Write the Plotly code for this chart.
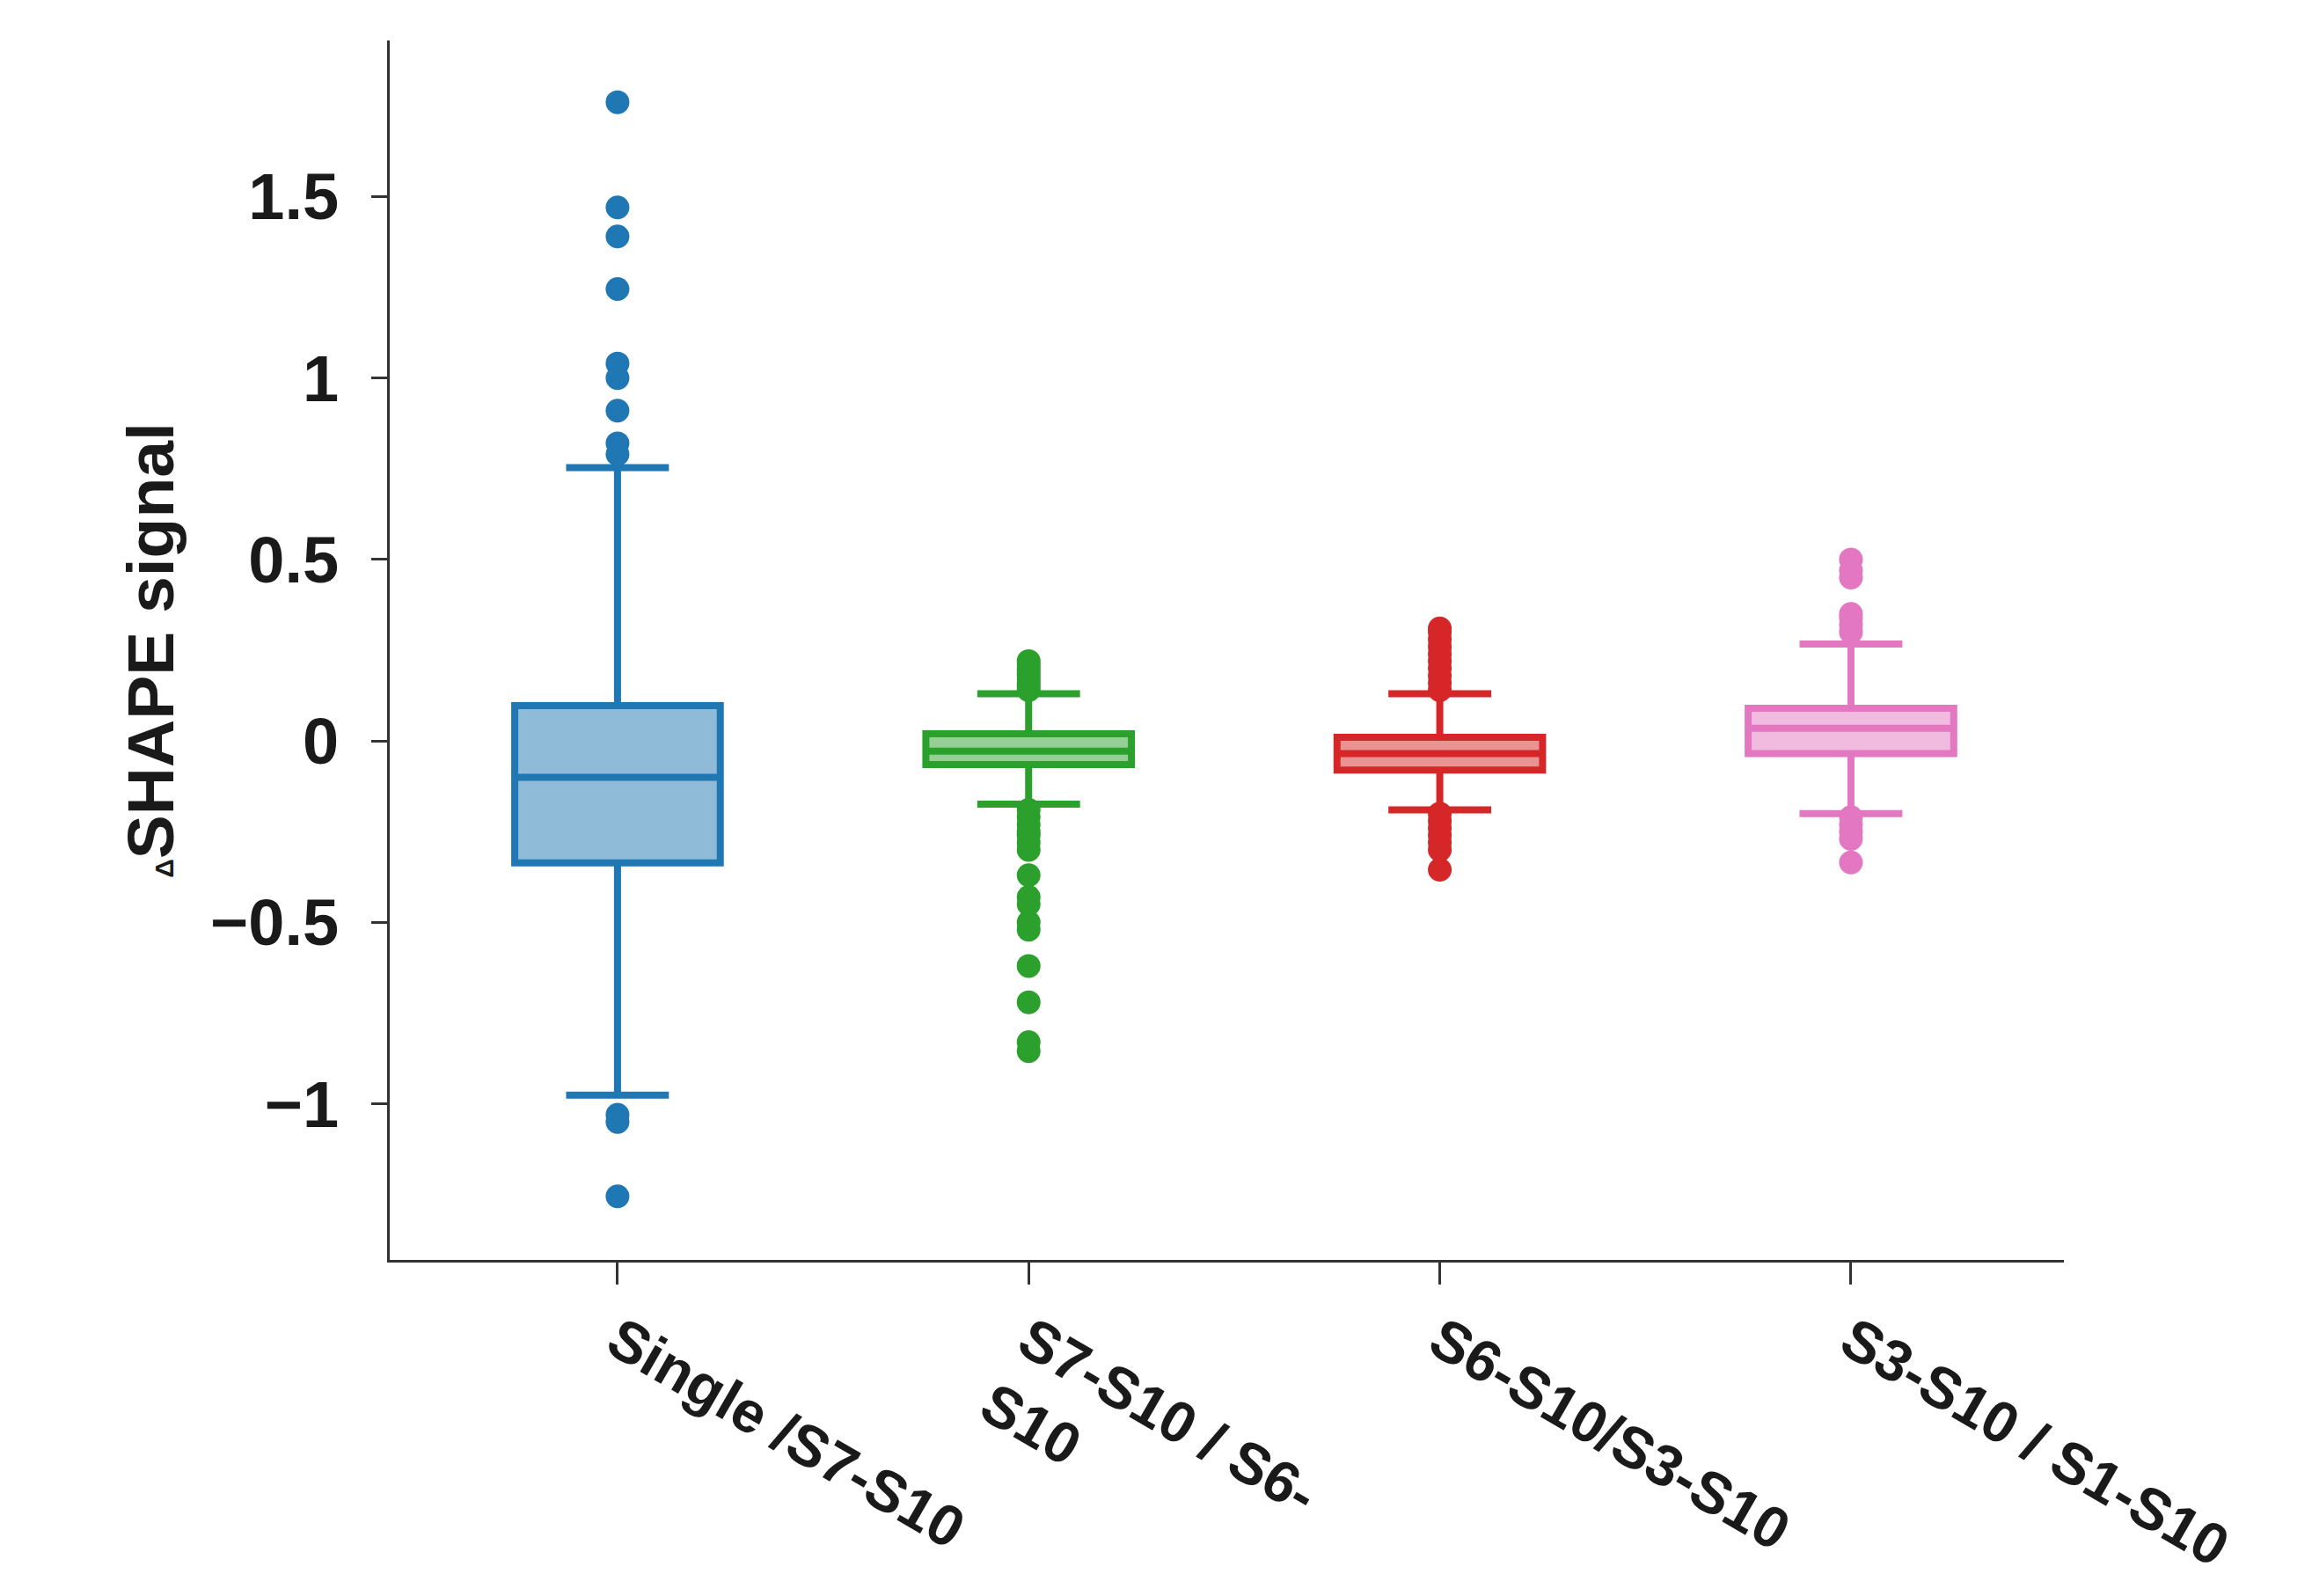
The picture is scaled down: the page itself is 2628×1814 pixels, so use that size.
import plotly.graph_objects as go

# category labels and colours (tab10)
categories = ["Single /S7-S10", "S7-S10 / S6-<br>S10", "S6-S10/S3-S10", "S3-S10 / S1-S10"]
colors = ["#1f77b4", "#2ca02c", "#d62728", "#e377c2"]
fills = ["rgba(31,119,180,0.5)", "rgba(44,160,44,0.5)", "rgba(214,39,40,0.5)", "rgba(227,119,194,0.5)"]

# box statistics
q1 = [-0.336, -0.065, -0.08, -0.035]
median = [-0.10, -0.028, -0.035, 0.035]
q3 = [0.097, 0.02, 0.01, 0.09]
lowerfence = [-0.976, -0.174, -0.19, -0.20]
upperfence = [0.753, 0.13, 0.13, 0.267]

# outliers per group
out_single = [1.76, 1.47, 1.39, 1.245, 1.04, 1.0, 0.91, 0.82, 0.79, -1.03, -1.05, -1.255]
out_s7 = [0.14, 0.15, 0.16, 0.17, 0.18, 0.19, 0.20, 0.21, 0.22,
          -0.19, -0.21, -0.23, -0.25, -0.26, -0.28, -0.30, -0.37, -0.43,
          -0.45, -0.50, -0.52, -0.62, -0.72, -0.83, -0.855]
out_s6 = [0.14, 0.16, 0.18, 0.20, 0.22, 0.24, 0.26, 0.28, 0.30, 0.31,
          -0.20, -0.22, -0.24, -0.26, -0.28, -0.30, -0.355]
out_s3 = [0.30, 0.32, 0.34, 0.35, 0.45, 0.47, 0.50,
          -0.21, -0.23, -0.25, -0.27, -0.335]
outliers = [out_single, out_s7, out_s6, out_s3]

fig = go.Figure()

for i, cat in enumerate(categories):
    fig.add_trace(go.Box(
        x=[cat], q1=[q1[i]], median=[median[i]], q3=[q3[i]],
        lowerfence=[lowerfence[i]], upperfence=[upperfence[i]],
        width=0.5, whiskerwidth=0.5,
        line=dict(color=colors[i], width=8),
        fillcolor=fills[i], boxpoints=False, showlegend=False,
    ))
    fig.add_trace(go.Scatter(
        x=[cat] * len(outliers[i]), y=outliers[i], mode="markers",
        marker=dict(color=colors[i], size=27, line=dict(width=0)),
        showlegend=False,
    ))

fig.update_layout(
    width=2628, height=1814,
    margin=dict(l=435, r=290, t=38, b=385),
    plot_bgcolor="white", paper_bgcolor="white",
    font=dict(family="Liberation Sans, Arial", color="#1a1a1a"),
)

fig.update_xaxes(
    type="category", range=[-0.554, 3.518],
    showline=True, linecolor="#333333", linewidth=3,
    ticks="outside", ticklen=25, tickwidth=3, tickcolor="#333333",
    tickangle=30, showgrid=False, zeroline=False,
    tickfont=dict(size=66, family="Liberation Sans, Arial", weight="bold"),
)

fig.update_yaxes(
    range=[-1.43, 1.93],
    tickvals=[-1, -0.5, 0, 0.5, 1, 1.5],
    showline=True, linecolor="#333333", linewidth=3,
    ticks="outside", ticklen=18, tickwidth=3, tickcolor="#333333",
    ticklabelstandoff=22,
    showgrid=False, zeroline=False,
    tickfont=dict(size=74, family="Liberation Sans, Arial", weight="bold"),
    title=dict(
        text="<span style='font-size:30px'>Δ</span>SHAPE signal",
        font=dict(size=75, family="Liberation Sans, Arial", weight="bold"),
        standoff=17,
    ),
)

fig.write_html("out.html")
